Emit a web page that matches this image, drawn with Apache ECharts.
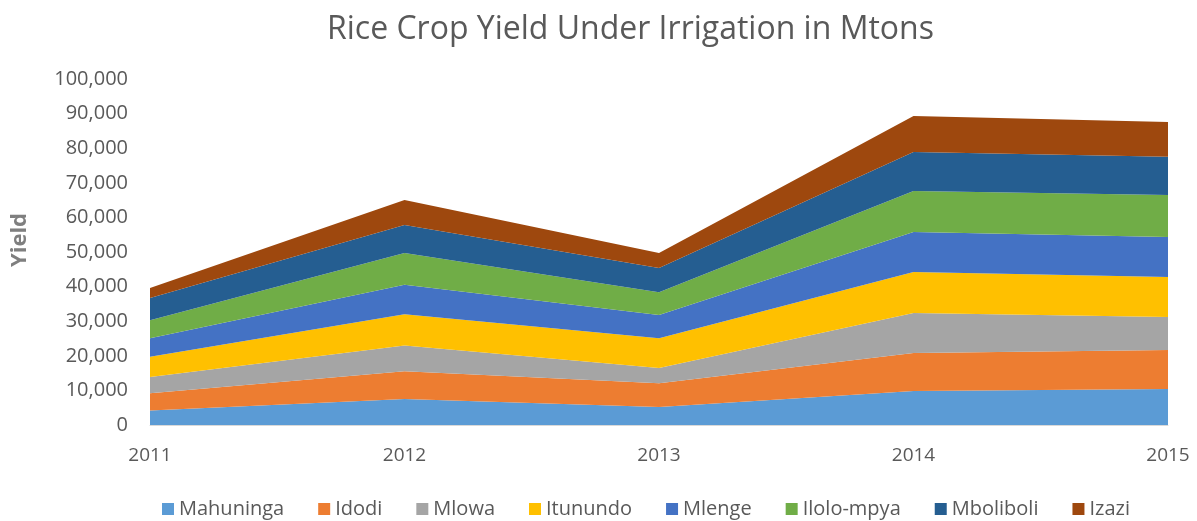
<!DOCTYPE html>
<html>
<head>
<meta charset="utf-8">
<script src="https://cdn.jsdelivr.net/npm/echarts@6/dist/echarts.min.js"></script>
<style>
    html,body{margin:0;padding:0;background:#fff;}
    #chart{width:1197px;height:521px;}
</style>
</head>
<body>
<div id="chart"></div>
<script>
// years on x axis
const years = ['2011', '2012', '2013', '2014', '2015']
// yield per area (Mtons)
const mahuninga = [4200, 7500, 5200, 9800, 10400]
const idodi = [5000, 8000, 6900, 11000, 11300]
const mlowa = [4700, 7500, 4400, 11600, 9500]
const itunundo = [5800, 9000, 8600, 11800, 11600]
const mlenge = [5400, 8500, 6700, 11600, 11500]
const iloloMpya = [5200, 9200, 6600, 11800, 12200]
const mboliboli = [6400, 8100, 7000, 11300, 11000]
const izazi = [2900, 7200, 4300, 10400, 10100]

const seriesNames = ['Mahuninga', 'Idodi', 'Mlowa', 'Itunundo', 'Mlenge', 'Ilolo-mpya', 'Mboliboli', 'Izazi']
const seriesData = [mahuninga, idodi, mlowa, itunundo, mlenge, iloloMpya, mboliboli, izazi]
const colors = ['#5B9BD5', '#ED7D31', '#A5A5A5', '#FFC000', '#4472C4', '#70AD47', '#255E91', '#9E480E']

const chart = echarts.init(document.getElementById('chart'))

const seriesArr = seriesNames.map((name, i) => {
    return {
        name: name,
        type: 'line',
        stack: 'total',
        data: seriesData[i],
        symbol: 'none',
        lineStyle: { width: 0 },
        areaStyle: { color: colors[i], opacity: 1 },
        itemStyle: { color: colors[i] }
    }
})

const option = {
    animation: false,
    title: {
        text: 'Rice Crop Yield Under Irrigation in Mtons',
        left: 322,
        top: 9,
        textStyle: {
            fontFamily: 'Open Sans',
            fontSize: 32,
            fontWeight: 'normal',
            color: '#595959'
        }
    },
    legend: {
        top: 494,
        left: 157,
        itemWidth: 12,
        itemHeight: 12,
        itemGap: 34,
        icon: 'rect',
        textStyle: {
            fontFamily: 'Open Sans',
            fontSize: 20,
            color: '#595959'
        },
        data: seriesNames
    },
    grid: {
        left: 150,
        right: 29,
        top: 79,
        bottom: 96
    },
    xAxis: {
        type: 'category',
        data: years,
        boundaryGap: false,
        axisLine: { lineStyle: { color: '#d9d9d9' } },
        axisTick: { show: false },
        axisLabel: {
            fontFamily: 'Open Sans',
            fontSize: 19,
            color: '#595959',
            margin: 21
        }
    },
    yAxis: {
        type: 'value',
        min: 0,
        max: 100000,
        interval: 10000,
        name: 'Yield',
        nameLocation: 'middle',
        nameGap: 119,
        nameRotate: 90,
        nameTextStyle: {
            fontFamily: 'Open Sans',
            fontSize: 22,
            fontWeight: 'bold',
            color: '#7f7f7f',
            padding: [0, 0, 0, 24]
        },
        splitLine: { show: false },
        axisLine: { show: false },
        axisTick: { show: false },
        axisLabel: {
            fontFamily: 'Open Sans',
            fontSize: 20,
            color: '#595959',
            margin: 22,
            formatter: v => v.toLocaleString('en-US')
        }
    },
    series: seriesArr
}

chart.setOption(option)
</script>
</body>
</html>
